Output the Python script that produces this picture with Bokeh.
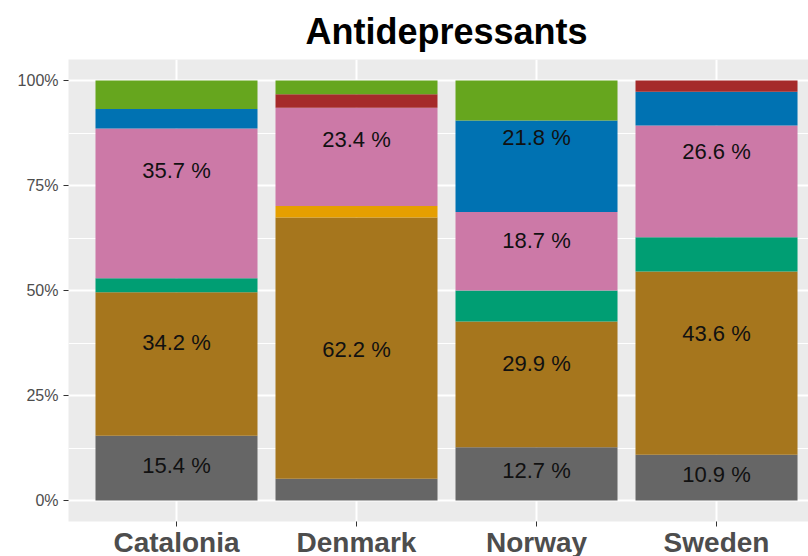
from bokeh.plotting import figure
from bokeh.models import Range1d, FixedTicker, ColumnDataSource
from bokeh.embed import file_html
from bokeh.resources import INLINE
import math

categories = ["Catalonia", "Denmark", "Norway", "Sweden"]

# shares (%) per drug group, stacked bottom -> top
grp_gray = [15.4, 5.2, 12.7, 10.9]
grp_brown = [34.2, 62.2, 29.9, 43.6]
grp_orange = [0.0, 2.7, 0.0, 0.0]
grp_teal = [3.3, 0.0, 7.4, 8.2]
grp_pink = [35.7, 23.4, 18.7, 26.6]
grp_blue = [4.6, 0.0, 21.8, 8.0]
grp_red = [0.0, 3.2, 0.0, 2.7]
grp_green = [6.8, 3.3, 9.5, 0.0]

# vertical label positions (%) (nan = no label)
nan = float("nan")
gray_label_y = [8.3, nan, 7.1, 6.2]
brown_label_y = [37.7, 35.9, 32.7, 39.8]
pink_label_y = [78.6, 85.9, 61.9, 83.2]
blue_label_y = [nan, nan, 86.4, nan]

y_ticks = [0, 25, 50, 75, 100]
y_tick_labels = ["0%", "25%", "50%", "75%", "100%"]

names = ["gray", "brown", "orange", "teal", "pink", "blue", "red", "green"]
series = [grp_gray, grp_brown, grp_orange, grp_teal, grp_pink, grp_blue, grp_red, grp_green]
colors = ["#666666", "#A6761D", "#E69F00", "#009E73", "#CC79A7", "#0072B2", "#A52A2A", "#66A61E"]

xs = list(range(1, len(categories) + 1))
data = {"x": xs}
for n, s in zip(names, series):
    data[n] = s
source = ColumnDataSource(data)

p = figure(width=808, height=561, output_backend="svg", toolbar_location=None,
           x_range=Range1d(0.4, 4.511), y_range=Range1d(-5, 105),
           min_border_left=68, min_border_right=0, min_border_top=59, min_border_bottom=40)

p.background_fill_color = "#EBEBEB"
p.border_fill_color = "white"
p.outline_line_color = None

p.vbar_stack(names, x="x", width=0.9, fill_color=colors, line_color=None, source=source)

# labels
lx, ly, lt = [], [], []
for vals, ys in [(grp_gray, gray_label_y), (grp_brown, brown_label_y),
                 (grp_pink, pink_label_y), (grp_blue, blue_label_y)]:
    for x, v, y in zip(xs, vals, ys):
        if not math.isnan(y):
            lx.append(x)
            ly.append(y)
            lt.append(f"{v:.1f} %")
lsrc = ColumnDataSource(dict(x=lx, y=ly, t=lt))
p.text(x="x", y="y", text="t", source=lsrc, text_align="center", text_baseline="middle",
       text_font_size="22px", text_color="#111111", text_font={"value": "Liberation Sans"})

# title
p.title.text = "Antidepressants"
p.title.align = "left"
p.title.offset = 237
p.title.text_font = "Liberation Sans"
p.title.text_font_size = "36px"
p.title.text_font_style = "bold"
p.title.text_color = "black"
p.title.standoff = 15

# grids
p.xgrid.ticker = FixedTicker(ticks=xs)
p.xgrid.grid_line_color = "white"
p.xgrid.grid_line_width = 2
p.ygrid.ticker = FixedTicker(ticks=y_ticks, minor_ticks=[12.5, 37.5, 62.5, 87.5])
p.ygrid.grid_line_color = "white"
p.ygrid.grid_line_width = 2
p.ygrid.minor_grid_line_color = "white"
p.ygrid.minor_grid_line_width = 1

# axes
yax = p.yaxis[0]
yax.ticker = FixedTicker(ticks=y_ticks, minor_ticks=[])
yax.major_label_overrides = {t: l for t, l in zip(y_ticks, y_tick_labels)}
yax.axis_line_color = None
yax.major_tick_line_color = "#333333"
yax.major_tick_in = 0
yax.major_tick_out = 5
yax.minor_tick_out = 0
yax.minor_tick_in = 0
yax.major_label_standoff = 5
yax.major_label_text_font = "Liberation Sans"
yax.major_label_text_font_size = "16px"
yax.major_label_text_color = "#4D4D4D"

xax = p.xaxis[0]
xax.ticker = FixedTicker(ticks=xs, minor_ticks=[])
xax.major_label_overrides = {x: c for x, c in zip(xs, categories)}
xax.axis_line_color = None
xax.major_tick_line_color = "#333333"
xax.major_tick_in = 0
xax.major_tick_out = 5
xax.minor_tick_out = 0
xax.minor_tick_in = 0
xax.major_label_standoff = 0
xax.major_label_text_font = "Liberation Sans"
xax.major_label_text_font_size = "28px"
xax.major_label_text_font_style = "bold"
xax.major_label_text_color = "#4D4D4D"

open("out.html", "w").write(file_html(p, INLINE))
